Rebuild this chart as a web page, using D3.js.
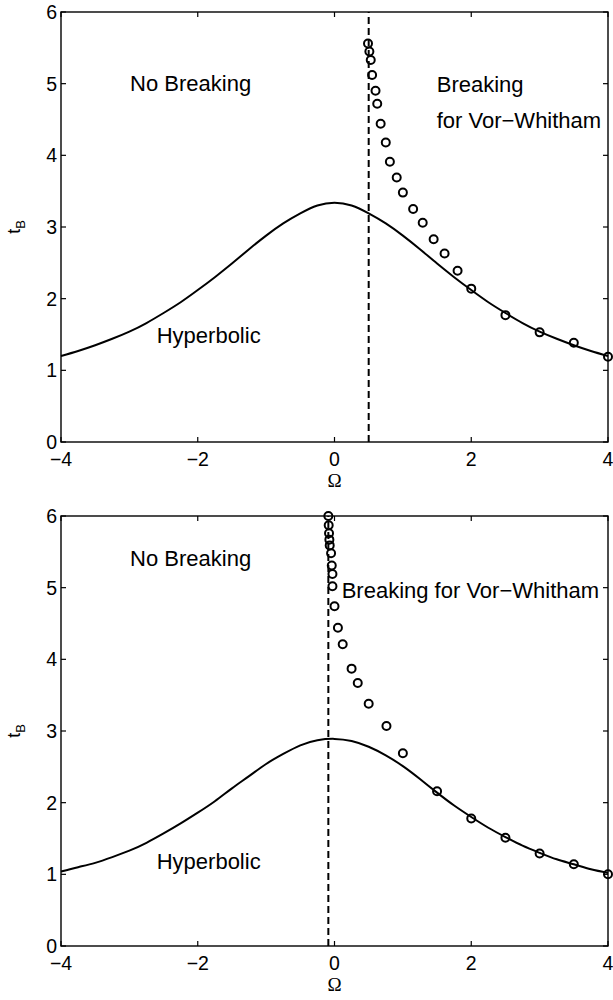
<!DOCTYPE html>
<html>
<head>
<meta charset="utf-8">
<script src="https://cdn.jsdelivr.net/npm/d3@7"></script>
<style>
  html, body { margin: 0; padding: 0; background: #fff; }
  svg { display: block; }
  text { font-family: "Liberation Sans", Arial, sans-serif; fill: #000; }
</style>
</head>
<body>
<div id="chart"></div>
<script>
// ---------- data ----------
const xTicks = [-4, -2, 0, 2, 4];
const yTicks = [0, 1, 2, 3, 4, 5, 6];

const curveOmega = [-4, -3.75, -3.5, -3.25, -3, -2.75, -2.5, -2.25, -2, -1.75, -1.5, -1.25, -1, -0.75, -0.5, -0.25,
                    0, 0.25, 0.5, 0.75, 1, 1.25, 1.5, 1.75, 2, 2.25, 2.5, 2.75, 3, 3.25, 3.5, 3.75, 4];

// Panel 1 (top)
const hypTop = [1.20, 1.27, 1.35, 1.44, 1.54, 1.66, 1.80, 1.95, 2.12, 2.30, 2.49, 2.69, 2.88, 3.05, 3.19, 3.30,
                3.34, 3.30, 3.19, 3.05, 2.88, 2.69, 2.49, 2.30, 2.12, 1.95, 1.80, 1.66, 1.54, 1.44, 1.35, 1.27, 1.20];
const vwTopOmega = [0.49, 0.51, 0.53, 0.55, 0.60, 0.625, 0.675, 0.75, 0.81, 0.91, 1.0, 1.15, 1.29, 1.45, 1.61, 1.80, 2.0, 2.5, 3.0, 3.5, 4.0];
const vwTopTB    = [5.56, 5.45, 5.33, 5.12, 4.90, 4.72, 4.44, 4.18, 3.91, 3.69, 3.48, 3.25, 3.06, 2.83, 2.63, 2.39, 2.14, 1.77, 1.53, 1.385, 1.19];
const dashTop = 0.5;

// Panel 2 (bottom)
const hypBottom = [1.04, 1.10, 1.16, 1.24, 1.33, 1.44, 1.57, 1.71, 1.86, 2.02, 2.20, 2.37, 2.54, 2.68, 2.80, 2.87,
                   2.89, 2.86, 2.78, 2.66, 2.51, 2.33, 2.14, 1.96, 1.80, 1.65, 1.52, 1.40, 1.30, 1.21, 1.14, 1.07, 1.02];
const vwBotOmega = [-0.09, -0.085, -0.08, -0.075, -0.07, -0.05, -0.04, -0.03, -0.03, 0.0, 0.05, 0.12, 0.25, 0.34, 0.50, 0.76, 1.0, 1.5, 2.0, 2.5, 3.0, 3.5, 4.0];
const vwBotTB    = [6.0, 5.87, 5.76, 5.67, 5.59, 5.48, 5.31, 5.19, 5.02, 4.74, 4.44, 4.21, 3.87, 3.67, 3.38, 3.07, 2.69, 2.16, 1.78, 1.51, 1.29, 1.14, 1.00];
const dashBottom = -0.09;

const labelsTop = ["No Breaking", "Breaking", "for Vor\u2212Whitham", "Hyperbolic"];
const labelsBottom = ["No Breaking", "Breaking for Vor\u2212Whitham", "Hyperbolic"];

// ---------- drawing ----------
const W = 613, H = 1000;
const svg = d3.select("#chart").append("svg").attr("width", W).attr("height", H);

function panel(top, bottom, hyp, mOmega, mTB, dashX, labels, labelPos) {
  const x = d3.scaleLinear().domain([-4, 4]).range([61, 608]);
  const y = d3.scaleLinear().domain([0, 6]).range([bottom, top]);
  const g = svg.append("g");

  // ticks (inward, all four sides)
  const tl = 5;
  const ax = g.append("g").attr("stroke", "#000").attr("stroke-width", 1.2);
  xTicks.forEach(t => {
    ax.append("line").attr("x1", x(t)).attr("x2", x(t)).attr("y1", y(0)).attr("y2", y(0) - tl);
    ax.append("line").attr("x1", x(t)).attr("x2", x(t)).attr("y1", y(6)).attr("y2", y(6) + tl);
  });
  yTicks.forEach(t => {
    ax.append("line").attr("x1", x(-4)).attr("x2", x(-4) + tl).attr("y1", y(t)).attr("y2", y(t));
    ax.append("line").attr("x1", x(4)).attr("x2", x(4) - tl).attr("y1", y(t)).attr("y2", y(t));
  });

  // dashed vertical line
  g.append("line").attr("x1", x(dashX)).attr("x2", x(dashX)).attr("y1", y(0)).attr("y2", y(6))
    .attr("stroke", "#000").attr("stroke-width", 2).attr("stroke-dasharray", "7,4");

  // hyperbolic curve
  const line = d3.line().x(d => x(d[0])).y(d => y(d[1])).curve(d3.curveNatural);
  g.append("path").datum(curveOmega.map((o, i) => [o, hyp[i]]))
    .attr("d", line).attr("fill", "none").attr("stroke", "#000").attr("stroke-width", 2);

  // box
  g.append("rect").attr("x", x(-4)).attr("y", y(6)).attr("width", x(4) - x(-4)).attr("height", y(0) - y(6))
    .attr("fill", "none").attr("stroke", "#000").attr("stroke-width", 1.4);

  // markers
  g.append("g").selectAll("circle").data(mOmega.map((o, i) => [o, mTB[i]])).join("circle")
    .attr("cx", d => x(d[0])).attr("cy", d => y(d[1])).attr("r", 4)
    .attr("fill", "none").attr("stroke", "#000").attr("stroke-width", 2);

  // tick labels
  g.append("g").selectAll("text").data(xTicks).join("text")
    .attr("x", d => x(d)).attr("y", y(0) + 24).attr("text-anchor", "middle").attr("font-size", 19.5)
    .text(d => d < 0 ? "\u2212" + Math.abs(d) : d);
  g.append("g").selectAll("text").data(yTicks).join("text")
    .attr("x", x(-4) - 4).attr("y", d => y(d)).attr("dy", "0.36em").attr("text-anchor", "end").attr("font-size", 19.5)
    .text(d => d);

  // axis labels
  g.append("text").attr("x", x(0)).attr("y", y(0) + 45).attr("text-anchor", "middle")
    .style("font-family", "'Liberation Serif', 'Times New Roman', serif").attr("font-size", 19).text("\u03A9");
  const yl = g.append("text").attr("transform", `translate(20,${(y(0) + y(6)) / 2}) rotate(-90)`)
    .attr("text-anchor", "middle").attr("font-size", 18);
  yl.append("tspan").text("t");
  yl.append("tspan").attr("font-size", 13).attr("dy", 5).text("B");

  // annotations
  labels.forEach((t, i) => {
    const p = labelPos[i];
    g.append("text").attr("x", x(p[0])).attr("y", y(p[1])).attr("font-size", 22).text(t);
  });
}

panel(12, 442, hypTop, vwTopOmega, vwTopTB, dashTop, labelsTop,
      [[-2.99, 4.90], [1.495, 4.88], [1.495, 4.38], [-2.6, 1.38]]);
panel(516, 946, hypBottom, vwBotOmega, vwBotTB, dashBottom, labelsBottom,
      [[-2.99, 5.30], [0.105, 4.86], [-2.6, 1.07]]);
</script>
</body>
</html>
